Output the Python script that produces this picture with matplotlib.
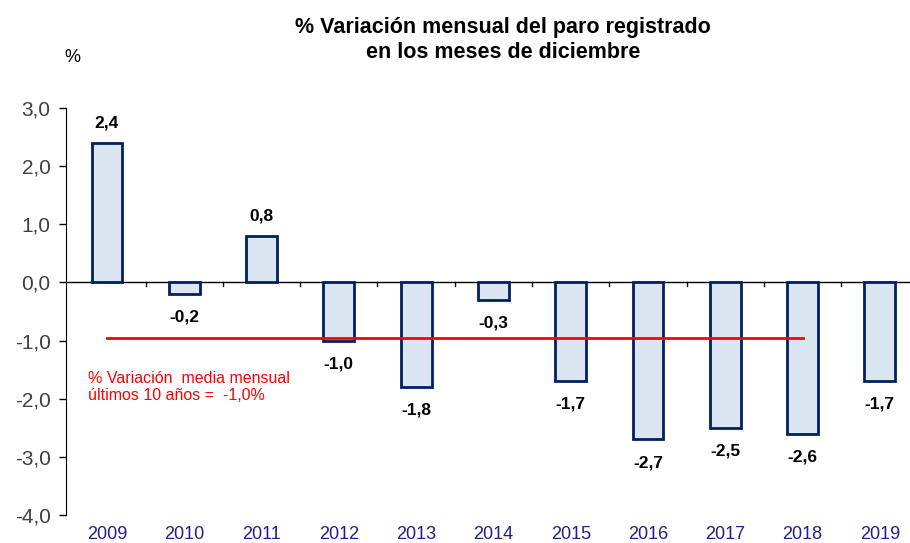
import matplotlib
matplotlib.use('Agg')
import matplotlib.pyplot as plt

# datos: variación mensual del paro en diciembre (%)
years = ['2009', '2010', '2011', '2012', '2013', '2014', '2015', '2016', '2017', '2018', '2019']
values = [2.4, -0.2, 0.8, -1.0, -1.8, -0.3, -1.7, -2.7, -2.5, -2.6, -1.7]
media = -0.96  # media últimos 10 años (2009-2018)

plt.rcParams['font.family'] = ['Liberation Sans', 'DejaVu Sans']

fig = plt.figure(figsize=(9.1, 5.43), dpi=100)
ax = fig.add_axes([66/910, 1-515/543, 1-66/910, (515-108)/543])

x = list(range(len(years)))
ax.bar(x, values, width=0.4, color='#DCE6F2', edgecolor='#002060', linewidth=2, zorder=2)

for xi, v in zip(x, values):
    lbl = ('%.1f' % v).replace('.', ',')
    if v >= 0:
        ax.text(xi, v + 0.22, lbl, ha='center', va='bottom', fontsize=12.5, fontweight='bold')
    else:
        ax.text(xi, v - 0.27, lbl, ha='center', va='top', fontsize=12.5, fontweight='bold')

# linea de la media
ax.plot([0, 9], [media, media], color='red', linewidth=2, zorder=3)
ax.text(-0.25, -1.52, '% Variación  media mensual\núltimos 10 años =  -1,0%', color='red',
        fontsize=11.5, ha='left', va='top', linespacing=1.15)

ax.set_xlim(-0.53, 10.39)
ax.set_ylim(-4, 3)
ticks = [3, 2, 1, 0, -1, -2, -3, -4]
ax.set_yticks(ticks)
ax.set_yticklabels([('%.1f' % t).replace('.', ',') for t in ticks], fontsize=15, color='#404040')
ax.tick_params(axis='y', direction='out', length=5, width=1, pad=6)

ax.set_xticks(x)
ax.set_xticklabels(years, fontsize=13, color='#1F1F8F')
ax.tick_params(axis='x', length=0, pad=8)

ax.spines['top'].set_visible(False)
ax.spines['right'].set_visible(False)
ax.spines['bottom'].set_visible(False)
ax.spines['left'].set_color('black')
ax.axhline(0, color='black', linewidth=1, zorder=1)
# marcas entre categorias sobre el eje 0
for b in range(len(years)):
    ax.plot([b + 0.5, b + 0.5], [0, -0.07], color='black', linewidth=1, zorder=1)

fig.text(503/910, 1-28/543, '% Variación mensual del paro registrado',
         ha='center', va='center', fontsize=15.5, fontweight='bold')
fig.text(503/910, 1-52/543, 'en los meses de diciembre',
         ha='center', va='center', fontsize=15.5, fontweight='bold')
fig.text(72/910, 1-57/543, '%', ha='center', va='center', fontsize=13)

fig.savefig('out.png', dpi=100)
